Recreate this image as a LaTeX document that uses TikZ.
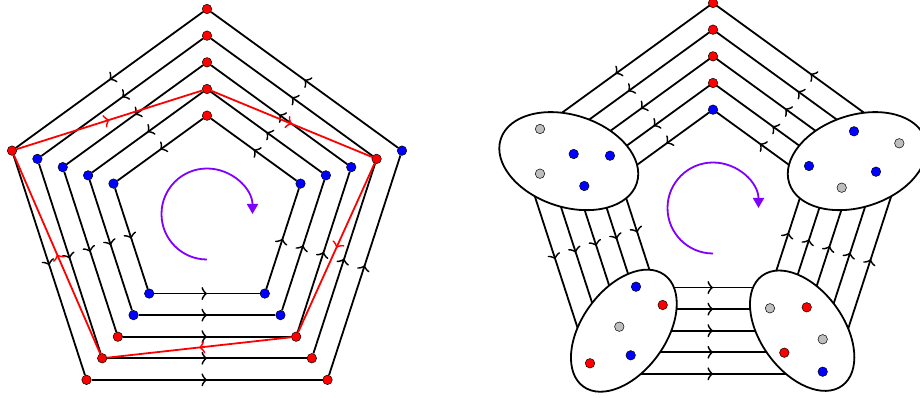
\documentclass[tikz,border=0pt]{standalone}
\usetikzlibrary{arrows.meta,decorations.markings,shapes.geometric,calc}
\definecolor{vio}{RGB}{127,0,255}
\definecolor{dotgray}{RGB}{190,190,190}
\tikzset{
  dot/.style={circle, draw=black, line width=0.5pt, inner sep=0pt, minimum size=9.5pt},
  rdot/.style={dot, fill=red},
  bdot/.style={dot, fill=blue},
  gdot/.style={dot, fill=dotgray},
  flow/.style={line width=1.8pt, draw=#1, postaction={decorate},
    decoration={markings, mark=at position 0.5 with {\arrow[#1, line width=1.8pt]{Classical TikZ Rightarrow[length=5.5pt,width=13pt]}}}},
  flow/.default=black,
  blob/.style={ellipse, draw=black, line width=1.8pt, fill=white, inner sep=0pt},
  turn/.style={draw=vio, line width=1.8pt, -{Triangle[length=10pt,width=11pt]}, vio}
}
\begin{document}
\begin{tikzpicture}[x=1pt,y=1pt]
\useasboundingbox (0,0) rectangle (920,398);
\coordinate (cL) at (207,184);
\coordinate (cR) at (713,190);
% vertex positions
\foreach \i/\r in {1/205,2/178.33,3/151.67,4/125,5/98.33}{
  \foreach \k/\a in {1/90,2/162,3/234,4/306,5/18}{
    \coordinate (P\i\k) at ($(cL)+(\a:\r)$);
    \coordinate (Q\i\k) at ($(cR)+(\a:\r)$);
  }
}
% ---------------- left figure ----------------
\foreach \i/\cA/\cB/\cC/\cD/\cE in {1/rdot/rdot/rdot/rdot/bdot,2/rdot/bdot/rdot/rdot/rdot,3/rdot/bdot/rdot/rdot/bdot,4/rdot/bdot/bdot/bdot/bdot,5/rdot/bdot/bdot/bdot/bdot}{
  \node[\cA] (L\i1) at (P\i1) {};
  \node[\cB] (L\i2) at (P\i2) {};
  \node[\cC] (L\i3) at (P\i3) {};
  \node[\cD] (L\i4) at (P\i4) {};
  \node[\cE] (L\i5) at (P\i5) {};
}
\foreach \i in {1,...,5}{
  \foreach \k/\n in {1/2,2/3,3/4,4/5,5/1}{
    \draw[flow] (L\i\k) -- (L\i\n);
  }
}
\draw[flow=red] (L12) -- (L41);
\draw[flow=red] (L41) -- (L25);
\draw[flow=red] (L25) -- (L34);
\draw[flow=red] (L34) -- (L23);
\draw[flow=red] (L23) -- (L12);
\draw[turn] ($(cL)+(270:45.5)$) arc[start angle=270, end angle=0, radius=45.5];
% ---------------- right figure ----------------
\foreach \i in {1,...,5}{
  \foreach \k/\n in {1/2,2/3,3/4,4/5,5/1}{
    \draw[flow] (Q\i\k) -- (Q\i\n);
  }
}
\foreach \i/\c in {1/rdot,2/rdot,3/rdot,4/rdot,5/bdot}{
  \node[\c] (R\i) at (Q\i1) {};
}
\node[blob, minimum width=143pt, minimum height=92pt, rotate=-18] (EUL) at ($(Q12)!0.5!(Q52)$) {};
\node[blob, minimum width=143pt, minimum height=92pt, rotate=18] (EUR) at ($(Q15)!0.5!(Q55)$) {};
\node[blob, minimum width=138pt, minimum height=84pt, rotate=54] (ELL) at ($(Q13)!0.5!(Q53)$) {};
\node[blob, minimum width=136pt, minimum height=83pt, rotate=-54] (ELR) at ($(Q14)!0.5!(Q54)$) {};
% dots in upper-left blob
\node[gdot] (a1) at (540,269) {};
\node[bdot] (a2) at (573.7,244) {};
\node[bdot] (a3) at (610,242.3) {};
\node[gdot] (a4) at (540,224.3) {};
\node[bdot] (a5) at (584.3,212) {};
% dots in upper-right blob
\node[bdot] (b1) at (854,266.7) {};
\node[gdot] (b2) at (899.3,254.7) {};
\node[bdot] (b3) at (809,232) {};
\node[bdot] (b4) at (876,226.3) {};
\node[gdot] (b5) at (841.7,210.3) {};
% dots in lower-left blob
\node[bdot] (c1) at (636,111.3) {};
\node[rdot] (c2) at (662.7,93) {};
\node[gdot] (c3) at (619.3,71.3) {};
\node[bdot] (c4) at (630.7,42.7) {};
\node[rdot] (c5) at (590,34.7) {};
% dots in lower-right blob
\node[gdot] (d1) at (770,89.7) {};
\node[rdot] (d2) at (806.7,90.7) {};
\node[gdot] (d3) at (822.7,58.7) {};
\node[rdot] (d4) at (784.3,45.3) {};
\node[bdot] (d5) at (822.7,26.3) {};
\draw[turn] ($(cR)+(270:45.5)$) arc[start angle=270, end angle=0, radius=45.5];
\end{tikzpicture}
\end{document}
